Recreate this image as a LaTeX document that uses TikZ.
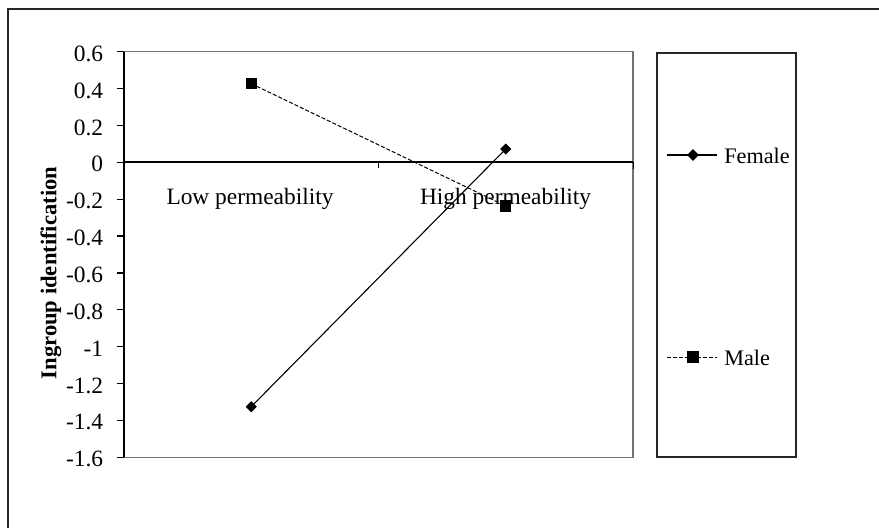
\documentclass[tikz,border=0pt]{standalone}
\usepackage{fontspec}
\setmainfont{Liberation Serif}
\usetikzlibrary{shapes.geometric}
\begin{document}
\begin{tikzpicture}[x=0.5pt,y=-0.5pt,
  lbl/.style={font=\fontsize{11.7}{13}\selectfont,inner sep=0pt},
  leglbl/.style={font=\fontsize{11.1}{13}\selectfont,inner sep=0pt},
  frame/.style={draw=black!55,line width=0.75pt},
  axisline/.style={draw=black,line width=1pt},
  tickmark/.style={draw=black,line width=0.6pt},
  femalemark/.style={diamond,fill=black,draw=none,inner sep=0pt,minimum width=5.6pt,minimum height=5.6pt},
  malemark/.style={rectangle,fill=black,draw=none,inner sep=0pt,minimum size=5.6pt},
  femaleline/.style={draw=black,line width=0.55pt},
  maleline/.style={draw=black,line width=0.5pt,dash pattern=on 2pt off 1pt}]
\useasboundingbox (0,0) rectangle (879,528);
% outer chart border (top and left edges)
\draw[line width=1pt,black!85] (8.3,528) -- (8.3,9.5) -- (879,9.5);
% plot area frame
\draw[frame] (124,51.7) -- (633,51.7) -- (633,457.3) -- (124,457.3);
% vertical axis with ticks and labels
\draw[axisline] (124,51.7) -- (124,457.3);
\foreach \t [count=\i from 0] in {0.6,0.4,0.2,0,-0.2,-0.4,-0.6,-0.8,-1,-1.2,-1.4,-1.6}{
  \pgfmathsetmacro{\yy}{51.7+\i*36.87}
  \draw[tickmark] (116.7,\yy) -- (124,\yy);
  \node[lbl,anchor=east] (yl\i) at (103.5,\yy+2) {\t};
}
% horizontal axis at zero
\draw[axisline] (124,161.7) -- (633,161.7);
\draw[tickmark,line width=0.4pt] (378.5,161.7) -- (378.5,168.3);
\draw[tickmark,line width=0.5pt] (633,161.7) -- (633,169);
\node[lbl,anchor=base] (catlow) at (250,205) {Low permeability};
\node[lbl,anchor=base] (cathigh) at (505.5,205) {High permeability};
% axis title
\node[lbl,font=\fontsize{11.3}{13}\selectfont\bfseries,rotate=90] (ytitle) at (51,273) {Ingroup identification};
% data series
\node[femalemark] (fl) at (251.25,406.7) {};
\node[femalemark] (fh) at (505.75,149) {};
\node[malemark] (ml) at (251.25,83.7) {};
\node[malemark] (mh) at (505.75,206) {};
\draw[maleline] (ml.center) -- (mh.center);
\draw[femaleline] (fl.center) -- (fh.center);
\node[femalemark] at (fl) {};
\node[femalemark] at (fh) {};
\node[malemark] at (ml) {};
\node[malemark] at (mh) {};
% legend
\draw[line width=0.9pt,black!85] (657.3,52.7) rectangle (796,457.3);
\coordinate (fa) at (666.7,155);
\coordinate (fb) at (717.3,155);
\draw[femaleline] (fa) -- (fb);
\node[femalemark,minimum width=6pt,minimum height=6pt] (fleg) at (693,155) {};
\node[leglbl,anchor=base west] (ftext) at (724,164) {Female};
\coordinate (ma) at (666.7,357.3);
\coordinate (mb) at (717.3,357.3);
\draw[maleline] (ma) -- (mb);
\node[malemark,minimum size=6pt] (mleg) at (692.5,357) {};
\node[leglbl,anchor=base west] (mtext) at (724,366) {Male};
\end{tikzpicture}
\end{document}
